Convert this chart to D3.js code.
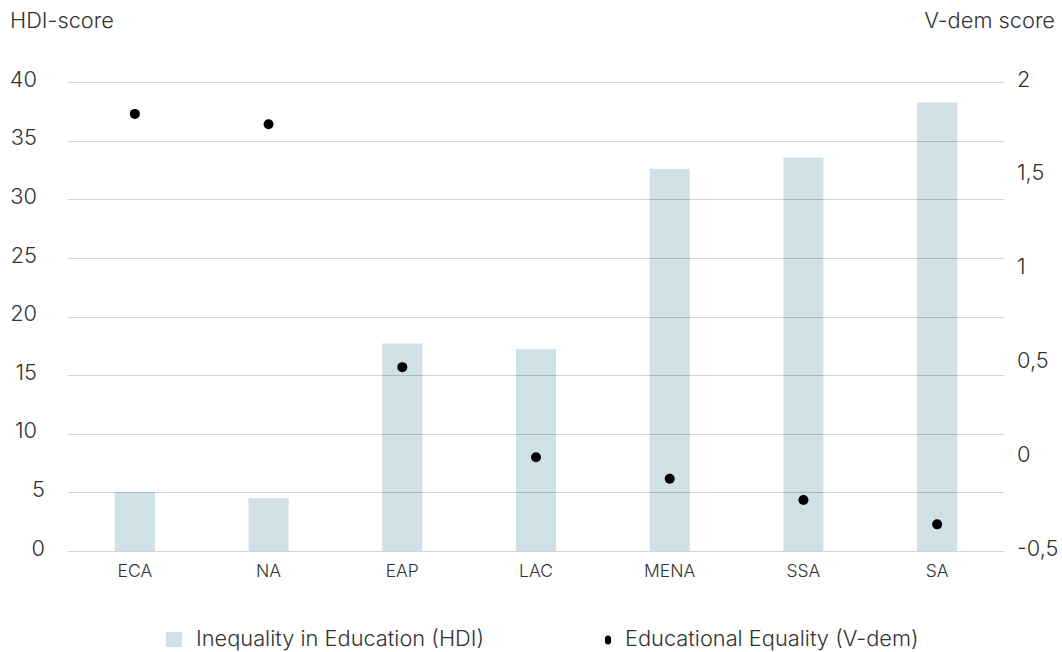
<!DOCTYPE html>
<html>
<head>
<meta charset="utf-8">
<script src="https://cdn.jsdelivr.net/npm/d3@7"></script>
<style>
  html, body { margin: 0; padding: 0; background: #fff; }
  svg { display: block; font-family: "Inter", "Open Sans", sans-serif; }
</style>
</head>
<body>
<svg id="chart" width="1062" height="652"></svg>
<script>
// Regions and their values
const regions = ["ECA", "NA", "EAP", "LAC", "MENA", "SSA", "SA"];
const hdiInequality = [5.05, 4.5, 17.7, 17.2, 32.6, 33.55, 38.25];
const vdemEquality = [1.83, 1.775, 0.48, 0.0, -0.115, -0.228, -0.358];

const leftTicks = [0, 5, 10, 15, 20, 25, 30, 35, 40];
const rightTicks = [-0.5, 0, 0.5, 1, 1.5, 2];
const rightTickLabels = ["-0,5", "0", "0,5", "1", "1,5", "2"];

const seriesNames = ["Inequality in Education (HDI)", "Educational Equality (V-dem)"];
const axisTitles = ["HDI-score", "V-dem score"];

const barColor = "#cfe0e6";
const textColor = "#333";
const mainSize = 21.8;

const svg = d3.select("#chart");
const plot = { left: 68, right: 1004, top: 82, bottom: 551 };

const x = d3.scaleBand()
  .domain(regions)
  .range([plot.left, plot.right])
  .paddingInner(0.7)
  .paddingOuter(0.35);

const yLeft = d3.scaleLinear().domain([0, 40]).range([plot.bottom, plot.top]);
const yRight = d3.scaleLinear().domain([-0.5, 2]).range([plot.bottom, plot.top]);

// Bars (left axis)
svg.append("g")
  .selectAll("rect")
  .data(regions)
  .join("rect")
  .attr("x", d => x(d))
  .attr("width", x.bandwidth())
  .attr("y", (d, i) => yLeft(hdiInequality[i]))
  .attr("height", (d, i) => yLeft(0) - yLeft(hdiInequality[i]))
  .attr("fill", barColor);

// Gridlines drawn over the bars
svg.append("g")
  .selectAll("line")
  .data(leftTicks)
  .join("line")
  .attr("x1", plot.left)
  .attr("x2", plot.right)
  .attr("y1", d => Math.round(yLeft(d)) + 0.5)
  .attr("y2", d => Math.round(yLeft(d)) + 0.5)
  .attr("stroke", "rgba(0,0,0,0.17)")
  .attr("stroke-width", 1.2);

// Left axis labels
svg.append("g")
  .selectAll("text")
  .data(leftTicks)
  .join("text")
  .attr("x", d => d < 10 ? 45 : 37)
  .attr("y", d => yLeft(d) - 3)
  .attr("dy", "0.35em")
  .attr("text-anchor", "end")
  .attr("font-size", mainSize)
  .attr("font-weight", 300)
  .attr("fill", textColor)
  .text(d => d);

// Right axis labels
svg.append("g")
  .selectAll("text")
  .data(rightTicks)
  .join("text")
  .attr("x", 1017)
  .attr("y", d => yRight(d) - 3)
  .attr("dy", "0.35em")
  .attr("text-anchor", "start")
  .attr("font-size", mainSize)
  .attr("font-weight", 300)
  .attr("fill", textColor)
  .text((d, i) => rightTickLabels[i]);

// Category labels
svg.append("g")
  .selectAll("text")
  .data(regions)
  .join("text")
  .attr("x", d => x(d) + x.bandwidth() / 2)
  .attr("y", 577)
  .attr("text-anchor", "middle")
  .attr("font-size", 17.5)
  .attr("font-weight", 300)
  .attr("fill", textColor)
  .text(d => d);

// Dots (right axis)
svg.append("g")
  .selectAll("circle")
  .data(regions)
  .join("circle")
  .attr("cx", d => x(d) + x.bandwidth() / 2)
  .attr("cy", (d, i) => yRight(vdemEquality[i]))
  .attr("r", 5)
  .attr("fill", "#000");

// Axis titles
svg.append("text")
  .attr("x", 10).attr("y", 28)
  .attr("font-size", mainSize).attr("font-weight", 300).attr("fill", textColor)
  .text(axisTitles[0]);
svg.append("text")
  .attr("x", 1055).attr("y", 28)
  .attr("text-anchor", "end")
  .attr("font-size", mainSize).attr("font-weight", 300).attr("fill", textColor)
  .text(axisTitles[1]);

// Legend
const legend = svg.append("g");
legend.append("rect")
  .attr("x", 166).attr("y", 632).attr("width", 16).attr("height", 15)
  .attr("fill", barColor);
legend.append("text")
  .attr("x", 196).attr("y", 646)
  .attr("font-size", mainSize).attr("font-weight", 300).attr("fill", textColor)
  .text(seriesNames[0]);
legend.append("ellipse")
  .attr("cx", 608).attr("cy", 640).attr("rx", 3.2).attr("ry", 4.5)
  .attr("fill", "#000");
legend.append("text")
  .attr("x", 625).attr("y", 646)
  .attr("font-size", mainSize).attr("font-weight", 300).attr("fill", textColor)
  .text(seriesNames[1]);
</script>
</body>
</html>
